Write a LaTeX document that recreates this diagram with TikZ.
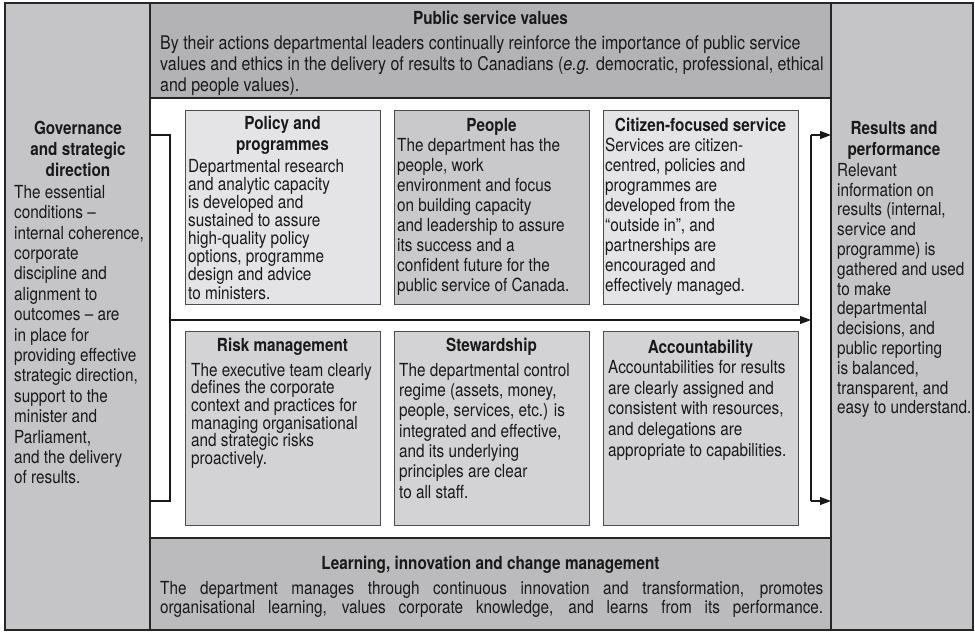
\documentclass[tikz,border=0pt]{standalone}
\usepackage{fontspec}
\setmainfont{TeX Gyre Heros}[FakeStretch=0.85]
\usetikzlibrary{arrows.meta}
\definecolor{sidegray}{HTML}{C5C5C7}
\definecolor{topgray}{HTML}{B3B3B5}
\definecolor{basegray}{HTML}{BBBBBD}
\definecolor{lightcard}{HTML}{E4E4E6}
\definecolor{midcard}{HTML}{C9C9CB}
\definecolor{lowcard}{HTML}{D3D3D5}

\begin{document}
\begin{tikzpicture}[x=1pt,y=-1pt,panel/.style={draw=black!85,line width=1.1pt,anchor=north west,inner sep=0pt,outer sep=0pt},card/.style={draw=black!70,line width=0.9pt,anchor=north west,inner sep=0pt,outer sep=0pt,minimum width=195pt,minimum height=194pt},head/.style={anchor=north,align=center,inner sep=0pt,text=black!90,font=\bfseries\fontsize{18}{21}\selectfont},body/.style={anchor=north west,align=left,inner sep=0pt,text=black!90,font=\fontsize{18}{#1}\selectfont},body/.default=20,link/.style={line width=1.1pt,black!90},flow/.style={link,-{Triangle[length=11pt,width=8pt]}}]
\useasboundingbox (0,0) rectangle (975,632);

% panels round the middle
\node[panel,fill=sidegray,minimum width=145pt,minimum height=627pt] (gov) at (5,3) {};
\node[panel,fill=sidegray,minimum width=142pt,minimum height=627pt] (res) at (831,3) {};
\node[panel,fill=topgray,minimum width=681pt,minimum height=95pt] (psv) at (150,3) {};
\node[panel,fill=basegray,minimum width=681pt,minimum height=92pt] (lic) at (150,538) {};

% the six cards
\node[card,fill=lightcard] (pol) at (185,110) {};
\node[card,fill=midcard] (peo) at (394,110) {};
\node[card,fill=lightcard] (cit) at (603,110) {};
\node[card,fill=lowcard] (risk) at (185,331) {};
\node[card,fill=lowcard] (stew) at (394,331) {};
\node[card,fill=lowcard] (acc) at (603,331) {};

% connectors
\coordinate (inTop) at (170,135);
\coordinate (inBot) at (170,501);
\coordinate (split) at (170,320);
\coordinate (outTop) at (811,135);
\coordinate (outBot) at (811,501);
\draw[link] (gov.east |- inTop) -- (inTop) -- (inBot) -- (gov.east |- inBot);
\draw[flow] (split) -- (split -| outTop);
\draw[link] (outTop) -- (outBot);
\draw[flow] (outTop) -- (res.west |- outTop);
\draw[flow] (outBot) -- (res.west |- outBot);

% texts
\node[head] (psvhead) at (490.5,11) {Public service values};
\node[body=21,font=\fontsize{18.8}{21}\selectfont] (psvtext) at (160,36) {By their actions departmental leaders continually reinforce the importance of public service\\values and ethics in the delivery of results to Canadians (\emph{e.g.} democratic, professional, ethical\\and people values).};

\node[head] (govhead) at (78,121) {Governance\\and strategic\\direction};
\node[body=20.4] (govtext) at (14,185) {The essential\\conditions –\\internal coherence,\\corporate\\discipline and\\alignment to\\outcomes – are\\in place for\\providing effective\\strategic direction,\\support to the\\minister and\\Parliament,\\and the delivery\\of results.};

\node[head] (reshead) at (894,121) {Results and\\performance};
\node[body=19.8] (restext) at (837,163) {Relevant\\information on\\results (internal,\\service and\\programme) is\\gathered and used\\to make\\departmental\\decisions, and\\public reporting\\is balanced,\\transparent, and\\easy to understand.};

\node[head] (polhead) at (282.5,116) {Policy and\\programmes};
\node[body=18.1] (poltext) at (188,159) {Departmental research\\and analytic capacity\\is developed and\\sustained to assure\\high-quality policy\\options, programme\\design and advice\\to ministers.};

\node[head] (peohead) at (491.5,118) {People};
\node[body] (peotext) at (397,138) {The department has the\\people, work\\environment and focus\\on building capacity\\and leadership to assure\\its success and a\\confident future for the\\public service of Canada.};

\node[head] (cithead) at (700.5,118) {Citizen-focused service};
\node[body] (cittext) at (605,138) {Services are citizen-\\centred, policies and\\programmes are\\developed from the\\“outside in”, and\\partnerships are\\encouraged and\\effectively managed.};

\node[head] (riskhead) at (282.5,338) {Risk management};
\node[body=17.6] (risktext) at (191,363) {The executive team clearly\\defines the corporate\\context and practices for\\managing organisational\\and strategic risks\\proactively.};

\node[head] (stewhead) at (491.5,338) {Stewardship};
\node[body=20.3] (stewtext) at (399,363) {The departmental control\\regime (assets, money,\\people, services, etc.) is\\integrated and effective,\\and its underlying\\principles are clear\\to all staff.};

\node[head] (acchead) at (700.5,340) {Accountability};
\node[body=20.7] (acctext) at (608,360) {Accountabilities for results\\are clearly assigned and\\consistent with resources,\\and delegations are\\appropriate to capabilities.};

\node[head] (lichead) at (490.5,556) {Learning, innovation and change management};
\node[body=19.5] (lictext) at (160,581) {\makebox[663pt][s]{The department manages through continuous innovation and transformation, promotes}\\\makebox[663pt][s]{organisational learning, values corporate knowledge, and learns from its performance.}};
\end{tikzpicture}
\end{document}
